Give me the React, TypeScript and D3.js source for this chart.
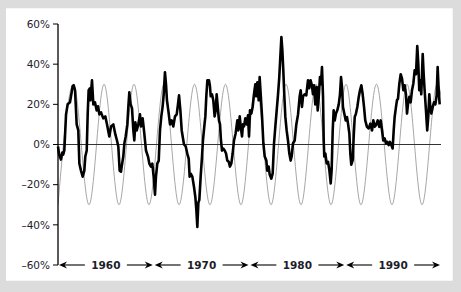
import React from "react";
import * as d3 from "d3";

// annual % change (year, %)
const fifties: [number, number][] = [
  [1955.0, -1], [1955.12, -5], [1955.31, -7.5], [1955.45, -4], [1955.55, -5], [1955.66, -3],
  [1955.84, 15], [1956.01, 20], [1956.25, 21], [1956.36, 24], [1956.53, 29], [1956.64, 29.5],
  [1956.78, 27], [1956.95, 10], [1957.12, 7], [1957.23, -9.5], [1957.4, -13], [1957.58, -16],
  [1957.75, -13], [1957.85, -6], [1958.0, -3], [1958.1, 15], [1958.2, 27], [1958.34, 28],
  [1958.38, 22], [1958.55, 32], [1958.69, 20], [1958.86, 21], [1959.04, 17], [1959.18, 19],
  [1959.32, 15], [1959.49, 16], [1959.73, 13], [1959.94, 14],
];
const sixties: [number, number][] = [
  [1960.12, 10], [1960.36, 4], [1960.54, 9], [1960.78, 10], [1960.99, 5], [1961.16, 2],
  [1961.3, -1], [1961.44, -13], [1961.58, -13.5], [1961.65, -11], [1961.82, -6], [1961.93, 0.5],
  [1962.07, 4], [1962.24, 10], [1962.35, 19], [1962.45, 26], [1962.59, 20], [1962.73, 18],
  [1962.87, 7], [1962.97, 2], [1963.08, 11], [1963.22, 7], [1963.39, 10], [1963.56, 15],
  [1963.67, 9], [1963.84, 13], [1963.98, 7], [1964.19, -3], [1964.4, -6], [1964.54, -9.5],
  [1964.71, -11], [1964.85, -9.5], [1964.99, -16], [1965.13, -25], [1965.23, -16], [1965.37, -9.5],
  [1965.52, -8], [1965.65, 7], [1965.79, 14], [1965.93, 19], [1966.04, 25], [1966.17, 36],
  [1966.28, 30], [1966.38, 22], [1966.52, 17], [1966.7, 10], [1966.87, 12], [1967.04, 9],
  [1967.22, 14], [1967.4, 15], [1967.53, 20], [1967.64, 24.5], [1967.78, 17], [1967.92, 7],
  [1968.09, 2], [1968.16, 0], [1968.34, -1], [1968.5, -4.5], [1968.65, -7], [1968.75, -16],
  [1968.86, -14.5], [1969.03, -16], [1969.2, -21], [1969.34, -26], [1969.45, -32.6], [1969.55, -41],
  [1969.66, -29], [1969.76, -27.6], [1969.9, -16],
];
const seventies: [number, number][] = [
  [1970.04, -6], [1970.14, 2], [1970.28, 9], [1970.39, 14], [1970.49, 24], [1970.6, 32],
  [1970.77, 32], [1970.87, 29], [1970.95, 24], [1971.08, 25], [1971.22, 22], [1971.36, 14],
  [1971.47, 17], [1971.57, 25], [1971.68, 19], [1971.81, 12], [1971.92, 10], [1972.02, 2],
  [1972.13, -3], [1972.26, -2], [1972.41, -3], [1972.55, -4.5], [1972.68, -8], [1972.83, -8.6],
  [1972.96, -11], [1973.1, -9.5], [1973.24, -4.5], [1973.38, 2], [1973.55, 5.5], [1973.73, 12],
  [1973.83, 7], [1973.98, 14], [1974.08, 9], [1974.22, 4], [1974.32, 10], [1974.43, 9],
  [1974.56, 13], [1974.71, 10], [1974.84, 14.5], [1974.95, 4], [1975.05, 17], [1975.19, 15.4],
  [1975.33, 18.7], [1975.47, 25], [1975.61, 30], [1975.71, 24], [1975.82, 31], [1975.96, 22],
  [1976.06, 33.6], [1976.17, 25], [1976.31, 14], [1976.45, 0.5], [1976.59, -6], [1976.76, -8],
  [1976.86, -13], [1977.0, -11], [1977.11, -15], [1977.28, -17], [1977.42, -14.4], [1977.56, 0.5],
  [1977.7, 9], [1977.84, 17], [1977.98, 25], [1978.11, 33.6], [1978.22, 43.5], [1978.33, 53.5],
  [1978.43, 47], [1978.53, 37], [1978.64, 24], [1978.74, 14], [1978.88, 7], [1979.02, 2],
  [1979.16, -4.5], [1979.3, -8], [1979.4, -6], [1979.54, 0.5], [1979.72, 2], [1979.89, 10],
];
const eighties: [number, number][] = [
  [1980.07, 15], [1980.24, 24], [1980.35, 27], [1980.48, 18.7], [1980.59, 24], [1980.76, 25],
  [1980.93, 24.5], [1981.11, 32], [1981.24, 28], [1981.38, 32], [1981.52, 29.5], [1981.63, 25],
  [1981.74, 29.5], [1981.87, 20], [1982.02, 28.6], [1982.12, 17], [1982.23, 23.7], [1982.36, 33.6],
  [1982.47, 30], [1982.57, 38.6], [1982.68, 23.7], [1982.75, 2], [1982.81, -6], [1982.92, -4.5],
  [1983.06, -9.4], [1983.2, -8.6], [1983.34, -12.7], [1983.48, -19.4], [1983.58, -12.7], [1983.69, 7],
  [1983.79, 17], [1983.9, 12], [1984.03, 15.4], [1984.17, 17], [1984.32, 20], [1984.45, 25],
  [1984.56, 33.6], [1984.66, 28.6], [1984.76, 18.7], [1984.9, 15.4], [1985.05, 12], [1985.18, 13.7],
  [1985.29, 10.4], [1985.43, 5.5], [1985.53, -4.5], [1985.63, -10], [1985.78, -7.8], [1985.88, 3.8],
  [1985.99, 13.7], [1986.12, 15.4], [1986.26, 18.7], [1986.41, 23.7], [1986.54, 27], [1986.68, 29.5],
  [1986.82, 25], [1986.96, 18.7], [1987.09, 12], [1987.27, 8.8], [1987.45, 8], [1987.62, 10.4],
  [1987.8, 7], [1987.93, 12], [1988.08, 8.8], [1988.21, 9.6], [1988.39, 12], [1988.56, 8.8],
  [1988.7, 12], [1988.84, 7], [1988.97, 2], [1989.12, 3], [1989.26, 0.5], [1989.39, 1.3],
  [1989.54, -0.3], [1989.67, 1.3], [1989.81, -0.3], [1989.95, -2],
];
const nineties: [number, number][] = [
  [1990.06, 7], [1990.16, 13.7], [1990.3, 18.7], [1990.4, 22], [1990.51, 22.8], [1990.65, 30.3],
  [1990.79, 35], [1990.93, 32.8], [1991.07, 27], [1991.21, 29.5], [1991.34, 25], [1991.45, 15.4],
  [1991.55, 20], [1991.69, 23.7], [1991.83, 21], [1991.97, 27], [1992.11, 30.3], [1992.25, 37],
  [1992.39, 35], [1992.52, 49], [1992.63, 40], [1992.73, 27], [1992.84, 32], [1992.94, 25],
  [1993.09, 45], [1993.19, 35], [1993.29, 27], [1993.43, 17], [1993.56, 7], [1993.67, 13.7],
  [1993.78, 25], [1993.88, 18.7], [1993.99, 15.4], [1994.14, 18.7], [1994.27, 21], [1994.41, 20],
  [1994.55, 24.5], [1994.65, 38.6], [1994.76, 27], [1994.86, 20],
];

// turning points of the idealised cycle (year, %)
const cycle: [number, number][] = [
  [1955.0, -30], [1956.62, 30], [1958.24, -30], [1959.81, 30], [1961.37, -30], [1962.94, 30],
  [1964.5, -30], [1966.07, 30], [1967.64, -30], [1969.26, 30], [1970.87, -30], [1972.49, 30],
  [1974.11, -30], [1975.68, 30], [1977.25, -30], [1978.82, 30], [1980.38, -30], [1981.95, 30],
  [1983.51, -30], [1985.08, 30], [1986.64, -30], [1988.26, 30], [1989.88, -30], [1991.45, 30],
  [1993.02, -30], [1994.6, 30], [1996.18, -30],
];

const yTicks = [60, 40, 20, 0, -20, -40, -60];
const decades = [1960, 1970, 1980, 1990];

const W = 461;
const H = 292;
const left = 58;
const right = 441;
const top = 24;
const bottom = 265;
const font = "'DejaVu Sans', sans-serif";
const ink = "#1d1d2b";

export default function App() {
  const series = [...fifties, ...sixties, ...seventies, ...eighties, ...nineties];

  const x = d3.scaleLinear().domain([1955, 1995]).range([left, right]);
  const y = d3.scaleLinear().domain([-60, 60]).range([bottom, top]);

  const line = d3
    .line<[number, number]>()
    .x((d) => x(d[0]))
    .y((d) => y(d[1]));
  const cycleLine = d3
    .line<[number, number]>()
    .x((d) => x(d[0]))
    .y((d) => y(d[1]))
    .curve(d3.curveMonotoneX);

  const ay = y(-60);
  const arrowHead = (tx: number, dir: number) =>
    `M${tx},${ay} L${tx - dir * 8},${ay - 3.4} L${tx - dir * 5.5},${ay} L${tx - dir * 8},${ay + 3.4} Z`;

  return (
    <svg width={W} height={H} style={{ position: "absolute", left: 0, top: 0 }}>
      <defs>
        <clipPath id="plot">
          <rect x={left} y={0} width={right - left} height={H} />
        </clipPath>
      </defs>
      <rect width={W} height={H} fill="#dcdcdc" />
      <rect x={6} y={8.3} width={446.7} height={272.4} fill="#ffffff" />

      {/* cycle */}
      <path
        d={cycleLine(cycle) || ""}
        fill="none"
        stroke="#8f8f8f"
        strokeWidth={0.8}
        clipPath="url(#plot)"
      />

      {/* zero line */}
      <line x1={left} x2={right} y1={y(0)} y2={y(0)} stroke="#333" strokeWidth={1} />

      {/* data */}
      <path
        d={line(series) || ""}
        fill="none"
        stroke="#000"
        strokeWidth={2.6}
        strokeLinejoin="round"
      />

      {/* y axis */}
      <line x1={left} x2={left} y1={y(60)} y2={y(-60)} stroke="#000" strokeWidth={1.3} />
      {yTicks.map((t) => (
        <g key={t}>
          <line x1={left - 5} x2={left} y1={y(t)} y2={y(t)} stroke="#000" strokeWidth={1} />
          <text
            x={left - 8}
            y={y(t) + 3.8}
            textAnchor="end"
            fontFamily={font}
            fontSize={10.5}
            fill={ink}
          >
            {(t < 0 ? "\u2013" + Math.abs(t) : String(t)) + "%"}
          </text>
        </g>
      ))}

      {/* decade arrows */}
      {decades.map((d) => {
        const x0 = x(d - 5) + 1;
        const x1 = x(d + 5) - 1;
        const cx = x(d);
        return (
          <g key={d}>
            <line x1={x0 + 5} x2={cx - 21} y1={ay} y2={ay} stroke="#000" strokeWidth={1.1} />
            <line x1={cx + 21} x2={x1 - 5} y1={ay} y2={ay} stroke="#000" strokeWidth={1.1} />
            <path d={arrowHead(x0, -1)} fill="#000" />
            <path d={arrowHead(x1, 1)} fill="#000" />
            <text
              x={cx}
              y={ay + 4}
              textAnchor="middle"
              fontFamily={font}
              fontSize={10.5}
              fontWeight="bold"
              fill={ink}
            >
              {d}
            </text>
          </g>
        );
      })}
    </svg>
  );
}
